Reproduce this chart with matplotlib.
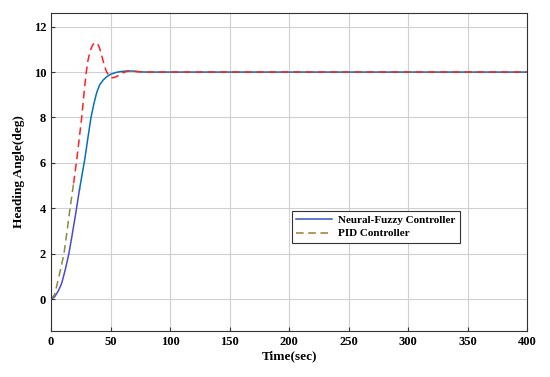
import numpy as np
import matplotlib
matplotlib.use("Agg")
import matplotlib.pyplot as plt
from matplotlib.lines import Line2D

# Neural-Fuzzy controller response
t_nf = [0, 3, 6, 9, 12, 15, 18, 21, 24, 26.5, 28.5, 31, 33.6, 36, 38.4, 41,
        44, 47, 50, 55, 60, 65, 70, 75, 80, 100, 200, 300, 400]
y_nf = [0, 0.1, 0.35, 0.7, 1.3, 2.0, 2.9, 3.85, 4.85, 5.6, 6.2, 7.1, 8.0, 8.6,
        9.1, 9.45, 9.66, 9.8, 9.9, 9.99, 10.03, 10.05, 10.04, 10.01, 10.0, 10.0,
        10.0, 10.0, 10.0]

# PID controller response
t_pid = [0, 3, 5.3, 8, 10.9, 13.5, 16, 19, 22, 24, 25.8, 27.6, 29.4, 31, 33,
         35, 37.5, 39, 40.5, 42, 43.5, 45, 46.8, 48.5, 50, 51.5, 53, 55, 57.5,
         60, 63, 66, 69, 72, 76, 80, 100, 200, 300, 400]
y_pid = [0, 0.2, 0.69, 1.3, 2.0, 3.0, 4.0, 5.1, 6.3, 7.2, 8.0, 9.0, 9.9, 10.5,
         10.95, 11.2, 11.3, 11.25, 11.1, 10.85, 10.55, 10.25, 10.0, 9.85, 9.78,
         9.75, 9.76, 9.8, 9.88, 9.96, 10.02, 10.05, 10.04, 10.02, 10.01, 10.0,
         10.0, 10.0, 10.0, 10.0]

plt.rcParams['font.family'] = ['Liberation Serif', 'DejaVu Serif']
plt.rcParams['font.weight'] = 'bold'

fig = plt.figure(figsize=(5.5, 3.77), dpi=100)
ax = fig.add_axes([0.0927, 0.122, 0.866, 0.8435])

# early part of each trace shows the legend colour, the rest the overlay colour
ax.plot(t_nf[:9], y_nf[:9], color='#4a4ad0', lw=1.1)
ax.plot(t_pid[:8], y_pid[:8], color='#8a8a40', lw=1.1, ls=(0, (5, 3)))
ax.plot(t_nf[8:], y_nf[8:], color='#0072BD', lw=1.1)
ax.plot(t_pid[7:], y_pid[7:], color='#FF2020', lw=1.1, ls=(0, (5, 3)))

ax.set_xlim(0, 400)
ax.set_ylim(-1.4, 12.6)
ax.set_xticks(np.arange(0, 401, 50))
ax.set_yticks(np.arange(0, 13, 2))
ax.grid(True, color='#d0d0d0', lw=0.8)
ax.tick_params(direction='in', labelsize=9, length=3, color='#333333')
for s in ax.spines.values():
    s.set_color('#333333')
    s.set_linewidth(0.8)
for lab in ax.get_xticklabels() + ax.get_yticklabels():
    lab.set_fontweight('bold')

ax.set_xlabel('Time(sec)', fontsize=9.5, fontweight='bold', labelpad=2)
ax.set_ylabel('Heading Angle(deg)', fontsize=9.5, fontweight='bold', labelpad=6)

handles = [Line2D([], [], color='#3a50c0', lw=1.1),
           Line2D([], [], color='#a07a30', lw=1.1, ls=(0, (5, 3)))]
leg = ax.legend(handles, ['Neural-Fuzzy Controller', 'PID Controller'],
                loc='lower left', bbox_to_anchor=(0.506, 0.277, 0.353, 0.094),
                mode='expand', fancybox=False, framealpha=1, edgecolor='#333333',
                prop={'size': 8.0, 'weight': 'bold'}, borderaxespad=0,
                handlelength=3.2, borderpad=0.4, labelspacing=0.3, handletextpad=0.5)
leg.get_frame().set_linewidth(0.8)

fig.savefig('out.png', dpi=100)
